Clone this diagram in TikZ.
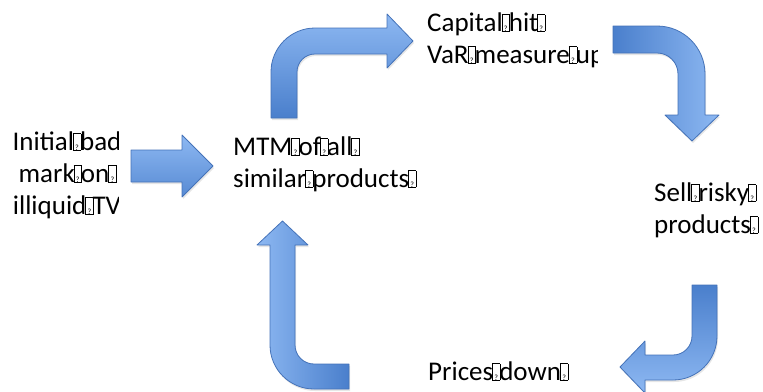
\documentclass[tikz,border=0pt]{standalone}
\usepackage{fontspec}
\setmainfont{Carlito}
\usetikzlibrary{shadows}
\definecolor{arrowlight}{HTML}{8DB8F2}
\definecolor{arrowdark}{HTML}{4A7FCC}
\definecolor{arrowedge}{HTML}{4472B8}
\newcommand\tofu{\makebox[0.226em][c]{\setlength\fboxsep{0pt}\setlength\fboxrule{0.5pt}%
  \fbox{\makebox[0.27em]{\rule{0pt}{0.6em}\fontsize{8}{8}\selectfont ?}}}}
\tikzset{
  cycle text/.style={inner sep=0pt,anchor=base west,align=left,font=\fontsize{27}{32}\selectfont},
  block arrow/.style={draw=arrowedge,line width=0.8pt,line join=round,
    drop shadow={shadow xshift=1pt,shadow yshift=-2pt,opacity=0.2}},
}

\begin{document}
\begin{tikzpicture}[x=1pt,y=-1pt]
  \useasboundingbox (0,0) rectangle (763,391);
  % texts (base = last line)
  \begin{scope}
    \clip (0,0) rectangle (118,391);
    \node[cycle text,align=center,anchor=base] (start) at (67,214) {Initial\tofu bad\\mark\tofu on\tofu\\illiquid\tofu TV};
  \end{scope}
  \node[cycle text] (mtm) at (233,187) {MTM\tofu of\tofu all\tofu\\similar\tofu products\tofu};
  \begin{scope}
    \clip (0,0) rectangle (597,391);
    \node[cycle text] (capital) at (427,63) {Capital\tofu hit\tofu\\VaR\tofu measure\tofu up};
  \end{scope}
  \node[cycle text] (sell) at (654,233) {Sell\tofu risky\tofu\\products\tofu};
  \node[cycle text] (prices) at (428,380) {Prices\tofu down\tofu};
  % arrows
  \path[block arrow,top color=arrowlight,bottom color=arrowdark!80!arrowlight]
    (131,150) -- (182,150) -- (182,135) -- (213,166) -- (182,197) -- (182,182) -- (131,182) -- cycle;
  \path[block arrow,top color=arrowlight,bottom color=arrowdark]
    (271,118) -- (271,72) arc[start angle=180,end angle=270,radius=44] -- (387,28) -- (387,14)
    -- (413,41) -- (387,68) -- (387,54) -- (315,54) arc[start angle=270,end angle=180,radius=18]
    -- (297,118) -- cycle;
  \path[block arrow,left color=arrowdark,right color=arrowlight]
    (613,26) -- (657,26) arc[start angle=270,end angle=360,radius=48] -- (705,115) -- (719,115)
    -- (692,141) -- (665,115) -- (678,115) -- (678,74) arc[start angle=0,end angle=-90,radius=21]
    -- (613,53) -- cycle;
  \path[block arrow,top color=arrowdark,bottom color=arrowlight]
    (692,285) -- (717,285) -- (717,336) arc[start angle=0,end angle=90,radius=44] -- (645,380)
    -- (645,393) -- (620,367) -- (645,341) -- (645,355) -- (673,355)
    arc[start angle=90,end angle=0,radius=19] -- cycle;
  \path[block arrow,left color=arrowlight,right color=arrowdark]
    (270,245) -- (257,245) -- (282.5,221) -- (308,245) -- (295,245) -- (295,345)
    arc[start angle=180,end angle=90,radius=19] -- (349,364) -- (349,389) -- (314,389)
    arc[start angle=90,end angle=180,radius=44] -- cycle;
\end{tikzpicture}
\end{document}
